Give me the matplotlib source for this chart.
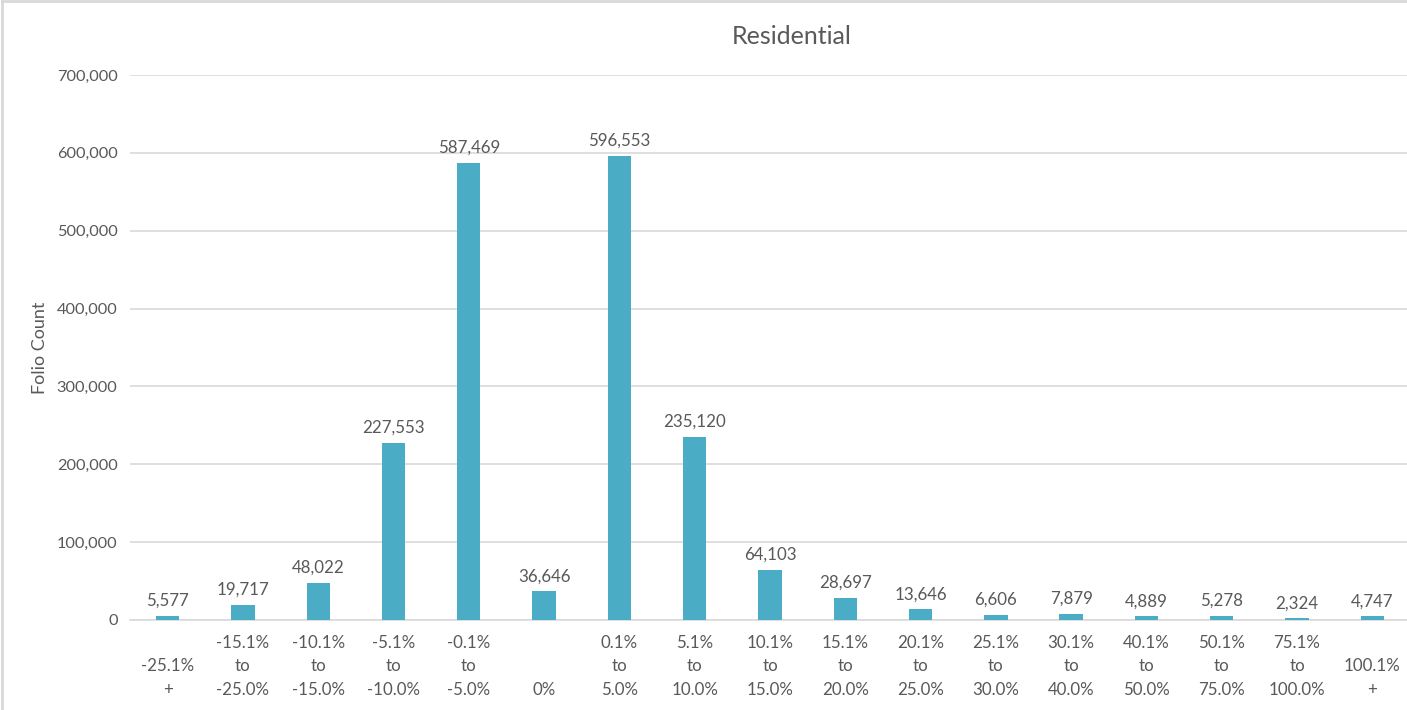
import matplotlib.pyplot as plt
from matplotlib.ticker import FuncFormatter, MultipleLocator
from matplotlib.lines import Line2D

# bucket labels (Excel wraps them to three lines, bottom aligned)
categories = [
    "\n-25.1%\n+", "-15.1%\nto\n-25.0%", "-10.1%\nto\n-15.0%", "-5.1%\nto\n-10.0%",
    "-0.1%\nto\n-5.0%", "\n\n0%", "0.1%\nto\n5.0%", "5.1%\nto\n10.0%",
    "10.1%\nto\n15.0%", "15.1%\nto\n20.0%", "20.1%\nto\n25.0%", "25.1%\nto\n30.0%",
    "30.1%\nto\n40.0%", "40.1%\nto\n50.0%", "50.1%\nto\n75.0%", "75.1%\nto\n100.0%",
    "\n100.1%\n+",
]
folio_count = [
    5577, 19717, 48022, 227553, 587469, 36646, 596553, 235120,
    64103, 28697, 13646, 6606, 7879, 4889, 5278, 2324, 4747,
]

BAR = "#4BACC6"
TXT = "#595959"
GRID = "#D9D9D9"

plt.rcParams['font.family'] = ['Lato', 'DejaVu Sans']

fig = plt.figure(figsize=(14.07, 7.10), dpi=100)
# the source screenshot is cropped on the right, so the plot runs past the edge
ax = fig.add_axes([0.0924, 0.1268, 0.9097, 0.7676])

x = list(range(len(categories)))
ax.bar(x, folio_count, width=0.31, color=BAR, zorder=3)

for xi, v in zip(x, folio_count):
    ax.annotate(f"{v:,}", (xi, v), xytext=(0, 5), textcoords="offset points",
                ha="center", va="bottom", fontsize=12.2, color=TXT)

ax.set_xlim(-0.5, len(categories) - 0.5)
ax.set_ylim(0, 700000)
ax.yaxis.set_major_locator(MultipleLocator(100000))
ax.yaxis.set_major_formatter(FuncFormatter(lambda v, p: f"{int(v):,}"))
ax.grid(axis="y", color=GRID, linewidth=1.2, zorder=0)

ax.set_xticks(x)
ax.set_xticklabels(categories, fontsize=12.2, color=TXT, linespacing=1.55)
ax.tick_params(axis="x", length=0, pad=11)
ax.tick_params(axis="y", length=0, pad=9, labelsize=11.8, labelcolor=TXT)

for side in ["top", "right", "left"]:
    ax.spines[side].set_visible(False)
ax.spines["bottom"].set_color(GRID)
ax.spines["bottom"].set_linewidth(1.2)

ax.set_ylabel("Folio Count", fontsize=13, color=TXT, labelpad=6)
fig.text(0.5625, 0.949, "Residential", ha="center", va="center",
         fontsize=18, color=TXT)

# light chart border (only left and top are inside the crop)
fig.lines.append(Line2D([0.0015, 0.0015], [0, 0.9985], transform=fig.transFigure,
                        color=GRID, linewidth=2))
fig.lines.append(Line2D([0.0015, 1], [0.9985, 0.9985], transform=fig.transFigure,
                        color=GRID, linewidth=2))

fig.savefig("out.png", dpi=100)
